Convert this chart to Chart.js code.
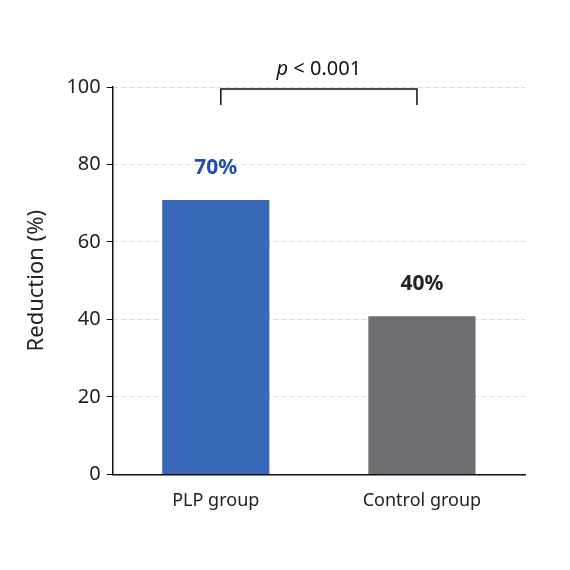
<!DOCTYPE html>
<html>
<head>
<meta charset="utf-8">
<script src="https://cdn.jsdelivr.net/npm/chart.js@4"></script>
<style>
	html, body { margin: 0; padding: 0; background: #fff; }
	#wrap { width: 570px; height: 570px; }
</style>
</head>
<body>
<div id="wrap"><canvas id="chart"></canvas></div>
<script>
/* Chart data. */
const categories = ["PLP group", "Control group"];
const reductions = [70.8, 40.8];
const valueLabels = ["70%", "40%"];
const labelColors = ["#1f4fb4", "#222222"];
const barColors = ["#3a68b8", "#6e6f72"];
const yTicks = [0, 20, 40, 60, 80, 100];
const pText = "< 0.001";

/* Draws the value labels and the significance bracket. */
const annotations = {
	id: "annotations",
	afterDatasetsDraw(chart) {
		const ctx = chart.ctx;
		const meta = chart.getDatasetMeta(0);
		const y = chart.scales.y;
		ctx.save();
		ctx.textAlign = "center";
		ctx.textBaseline = "bottom";
		ctx.font = "bold 21px 'Noto Sans'";
		meta.data.forEach((bar, i) => {
			ctx.fillStyle = labelColors[i];
			ctx.fillText(valueLabels[i], bar.x, bar.y - 22);
		});

		const x1 = meta.data[0].x + 5, x2 = meta.data[1].x - 5;
		const top = y.getPixelForValue(100) + 2;
		ctx.strokeStyle = "#111";
		ctx.lineWidth = 1.5;
		ctx.beginPath();
		ctx.moveTo(x1, top + 16);
		ctx.lineTo(x1, top);
		ctx.lineTo(x2, top);
		ctx.lineTo(x2, top + 16);
		ctx.stroke();

		ctx.fillStyle = "#111";
		const rest = " " + pText;
		ctx.font = "italic 20px 'Noto Sans'";
		const pw = ctx.measureText("p").width;
		ctx.font = "20px 'Noto Sans'";
		const rw = ctx.measureText(rest).width;
		const sx = (x1 + x2) / 2 - (pw + rw) / 2;
		ctx.textAlign = "left";
		ctx.textBaseline = "alphabetic";
		ctx.font = "italic 20px 'Noto Sans'";
		ctx.fillText("p", sx, top - 14);
		ctx.font = "20px 'Noto Sans'";
		ctx.fillText(rest, sx + pw, top - 14);
		ctx.restore();
	},
};

new Chart(
	document.getElementById("chart"),
	{
		type: "bar",
		data: {
			labels: categories,
			datasets: [
				{
					data: reductions,
					backgroundColor: barColors,
					categoryPercentage: 0.52,
					barPercentage: 1,
				},
			],
		},
		options: {
			responsive: true,
			maintainAspectRatio: false,
			animation: false,
			layout: { padding: { left: 20, right: 45, top: 87, bottom: 50 } },
			plugins: {
				legend: { display: false },
				tooltip: { enabled: false },
			},
			scales: {
				x: {
					grid: { display: false },
					border: { color: "#111", width: 1.5 },
					ticks: { color: "#222", font: { family: "Noto Sans", size: 18 }, padding: 8 },
				},
				y: {
					min: 0,
					max: 100,
					afterBuildTicks: (axis) => { axis.ticks = yTicks.map((v) => ({ value: v })); },
					grid: { color: "#d6d6d6", drawTicks: true, tickLength: 6, tickColor: "#111" },
					border: { color: "#111", width: 1.5, dash: [4, 4], dashOffset: 0 },
					ticks: { color: "#222", font: { family: "Noto Sans", size: 20 }, padding: 6 },
					title: {
						display: true,
						text: "Reduction (%)",
						color: "#222",
						font: { family: "Noto Sans", size: 22 },
						padding: { bottom: 10 },
					},
				},
			},
		},
		plugins: [annotations],
	}
);
</script>
</body>
</html>
